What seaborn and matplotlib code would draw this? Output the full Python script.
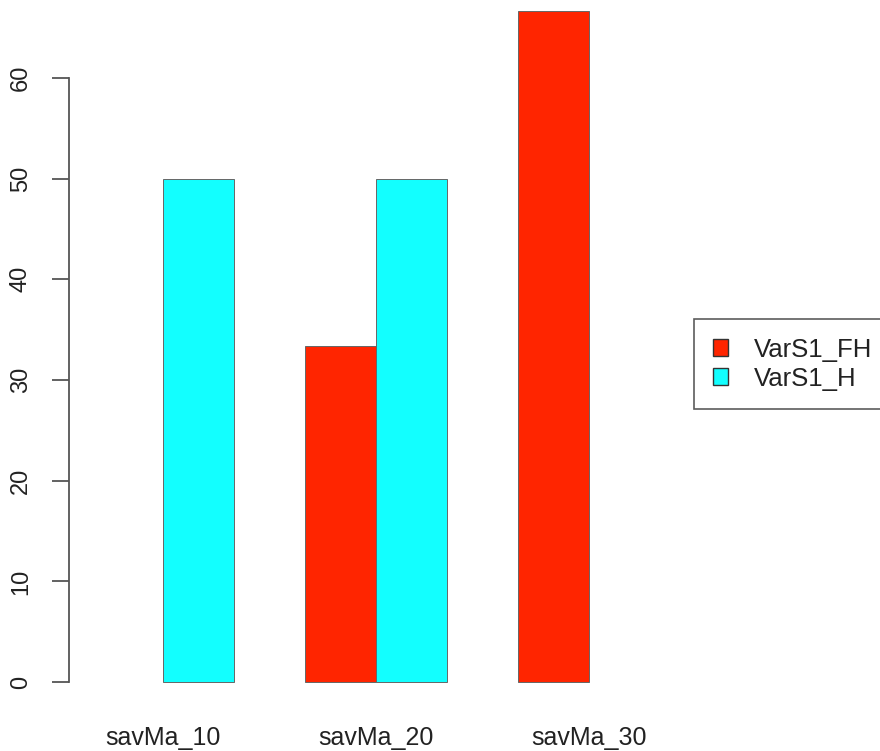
import pandas as pd
import numpy as np
import matplotlib
matplotlib.use('Agg')
import matplotlib.pyplot as plt
from matplotlib.patches import Patch
import seaborn as sns

# chart data
categories = ['savMa_10', 'savMa_20', 'savMa_30']
series = ['VarS1_FH', 'VarS1_H']
fh_values = [0, 33.33, 66.67]
h_values = [50, 50, 0]
y_ticks = [0, 10, 20, 30, 40, 50, 60]

colors = ['#FF2500', '#12FFFF']

df = pd.DataFrame({
    'category': categories * 2,
    'series': [series[0]] * 3 + [series[1]] * 3,
    'value': fh_values + h_values,
})

sns.set_style('white')
plt.rcParams['font.family'] = ['Liberation Sans', 'DejaVu Sans']

fig = plt.figure(figsize=(8.8, 7.51), dpi=100)
# plot region placed like R's base graphics device
ax = fig.add_axes([69.3 / 880, (751 - 709) / 751, (683 - 69.3) / 880, 709 / 751])

sns.barplot(data=df, x='category', y='value', hue='series', order=categories,
            hue_order=series, palette=colors, width=2 / 3, edgecolor='#666666',
            linewidth=0.7, saturation=1, legend=False, ax=ax)

# R does not show empty bars
for p in ax.patches:
    if p.get_height() == 0:
        p.set_visible(False)

ax.set_xlim(-0.44, 2.44)
ax.set_ylim(-2.67, 67.73)
ax.set_xlabel('')
ax.set_ylabel('')

for s in ['top', 'right', 'bottom']:
    ax.spines[s].set_visible(False)
ax.spines['left'].set_bounds(0, 60)
ax.spines['left'].set_color('#555555')
ax.spines['left'].set_linewidth(1.3)

ax.set_yticks(y_ticks)
ax.set_yticklabels([str(t) for t in y_ticks])
ax.tick_params(axis='y', direction='out', length=12, width=1.3, color='#555555',
               labelsize=17, labelcolor='#222222', pad=15, labelrotation=90, left=True)
for lbl in ax.get_yticklabels():
    lbl.set_va('center')
ax.tick_params(axis='x', length=0, labelsize=18, labelcolor='#222222', pad=12)

handles = [Patch(facecolor=c, edgecolor='#333333', linewidth=1.0) for c in colors]
leg = fig.legend(handles, series, loc='upper left',
                 bbox_to_anchor=(694 / 880, 1 - 319 / 751), bbox_transform=fig.transFigure,
                 fontsize=18.5, frameon=True, fancybox=False, edgecolor='#333333',
                 handlelength=0.6, handleheight=0.6, handletextpad=1.0,
                 borderpad=0.72, labelspacing=0.2, borderaxespad=0)
leg.get_frame().set_linewidth(1.2)
for t in leg.get_texts():
    t.set_color('#222222')

fig.savefig('out.png', dpi=100)
